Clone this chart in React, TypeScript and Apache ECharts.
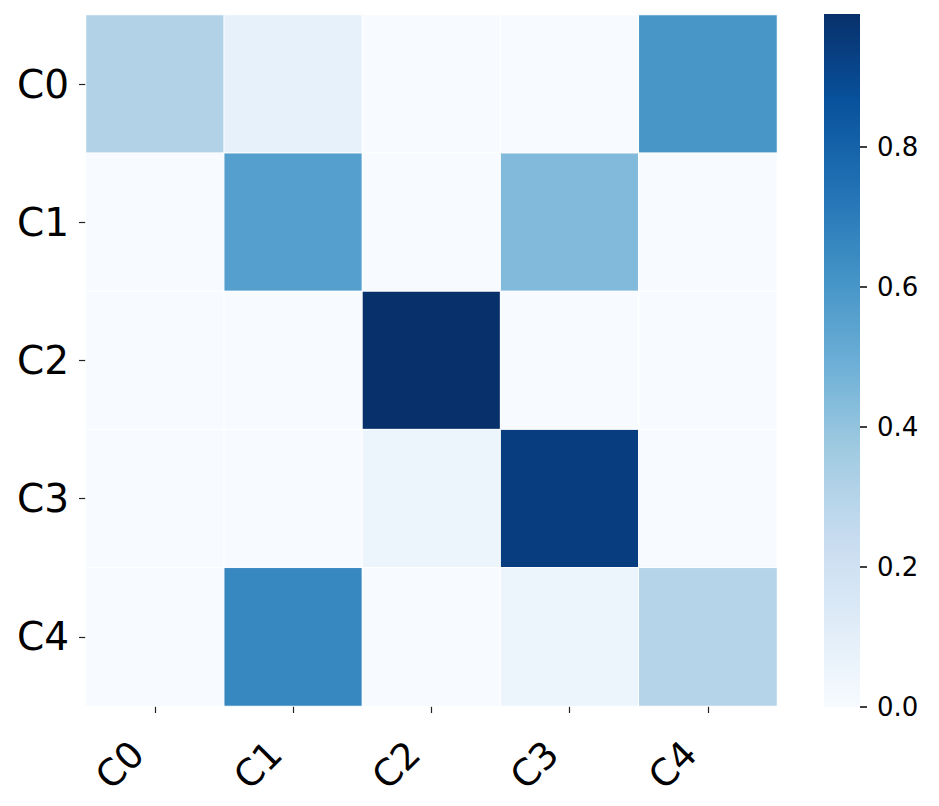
import React, { useEffect, useRef } from "react";
import * as echarts from "echarts";

const xCategories = ["C0", "C1", "C2", "C3", "C4"];
const yCategories = ["C0", "C1", "C2", "C3", "C4"];
// rows (y) by columns (x)
const row0 = [0.31, 0.08, 0.0, 0.0, 0.6];
const row1 = [0.0, 0.56, 0.0, 0.44, 0.0];
const row2 = [0.0, 0.0, 0.99, 0.0, 0.0];
const row3 = [0.0, 0.0, 0.05, 0.94, 0.0];
const row4 = [0.0, 0.66, 0.0, 0.05, 0.3];
const rows = [row0, row1, row2, row3, row4];
const colorbarTicks = [0, 0.2, 0.4, 0.6, 0.8];
const vmin = 0;
const vmax = 0.99;
const bluesStops = [
  "#f7fbff",
  "#deebf7",
  "#c6dbef",
  "#9ecae1",
  "#6baed6",
  "#4292c6",
  "#2171b5",
  "#08519c",
  "#08306b",
];

export default function App() {
  const ref = useRef<HTMLDivElement>(null);
  useEffect(() => {
    if (!ref.current) return;
    const chart = echarts.init(ref.current, null, { renderer: "svg" });
    const data: [number, number, number][] = [];
    rows.forEach((r, yi) => r.forEach((v, xi) => data.push([xi, yi, v])));
    const font = "DejaVu Sans";
    const n = bluesStops.length;
    const gradStops = bluesStops
      .slice()
      .reverse()
      .map((c, i) => ({ offset: i / (n - 1), color: c }));
    chart.setOption({
      animation: false,
      backgroundColor: "#ffffff",
      textStyle: { fontFamily: font },
      grid: [
        { left: 86, top: 15, width: 691, height: 691 },
        { left: 824, top: 14, width: 36, height: 693 },
      ],
      xAxis: [
        {
          type: "category",
          data: xCategories,
          gridIndex: 0,
          axisLine: { show: false },
          axisTick: { show: true, alignWithLabel: true, length: 7, lineStyle: { color: "#222", width: 1.2 } },
          axisLabel: {
            rotate: 45,
            fontSize: 37,
            color: "#000",
            margin: 24,
            padding: [0, 25, 59, 0],
            fontFamily: font,
          },
          splitLine: { show: false },
        },
        {
          type: "category",
          data: ["cb"],
          gridIndex: 1,
          show: false,
        },
      ],
      yAxis: [
        {
          type: "category",
          data: yCategories,
          gridIndex: 0,
          inverse: true,
          axisLine: { show: false },
          axisTick: { show: true, alignWithLabel: true, length: 7, lineStyle: { color: "#222", width: 1.2 } },
          axisLabel: { fontSize: 39, color: "#000", margin: 17, fontFamily: font },
          splitLine: { show: false },
        },
        {
          type: "value",
          gridIndex: 1,
          position: "right",
          min: vmin,
          max: vmax,
          interval: 0.2,
          axisLine: { show: false },
          axisTick: { show: true, length: 7, lineStyle: { color: "#000", width: 1.5 } },
          axisLabel: {
            fontSize: 26,
            color: "#000",
            margin: 17,
            fontFamily: font,
            showMaxLabel: false,
            formatter: (v: number) => (colorbarTicks.some((t) => Math.abs(t - v) < 1e-6) ? v.toFixed(1) : ""),
          },
          splitLine: { show: false },
        },
      ],
      visualMap: {
        show: false,
        seriesIndex: 0,
        min: vmin,
        max: vmax,
        inRange: { color: bluesStops },
      },
      series: [
        {
          type: "heatmap",
          xAxisIndex: 0,
          yAxisIndex: 0,
          data,
          itemStyle: { borderColor: "#ffffff", borderWidth: 1 },
          emphasis: { disabled: true },
        },
        {
          type: "bar",
          xAxisIndex: 1,
          yAxisIndex: 1,
          data: [vmax],
          barWidth: "100%",
          itemStyle: {
            color: new echarts.graphic.LinearGradient(0, 0, 0, 1, gradStops),
          },
          silent: true,
        },
      ],
    });
    return () => chart.dispose();
  }, []);
  return (
    <div
      ref={ref}
      style={{ position: "fixed", left: 0, top: 0, width: 939, height: 806 }}
    />
  );
}
